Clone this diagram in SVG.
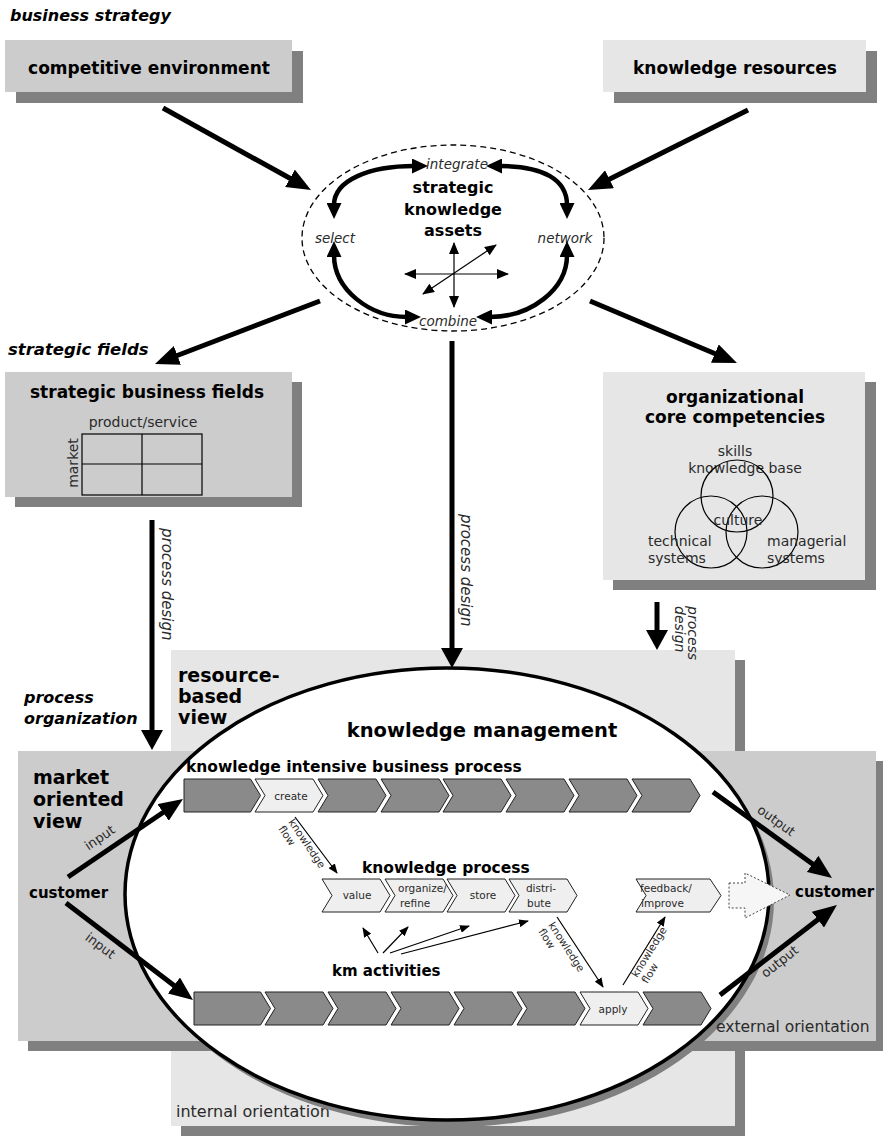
<svg xmlns="http://www.w3.org/2000/svg" xmlns:xlink="http://www.w3.org/1999/xlink" width="883" height="1136" viewBox="0 0 883 1136">
<style>
.b{font-family:"DejaVu Sans",sans-serif;font-weight:bold;fill:#000}
.bi{font-family:"DejaVu Sans",sans-serif;font-weight:bold;font-style:italic;fill:#000}
.l{font-family:"DejaVu Sans",sans-serif;font-weight:normal;fill:#2a2a2a}
.li{font-family:"DejaVu Sans",sans-serif;font-weight:normal;font-style:italic;fill:#2a2a2a}
.m{text-anchor:middle}
.g1{fill:#cccccc}
.g2{fill:#e6e6e6}
.sh{fill:#808080}
.ch{fill:#8a8a8a;stroke:#222;stroke-width:1}
.chl{fill:#efefef;stroke:#222;stroke-width:1}
.thick{stroke:#000;stroke-width:5;fill:none}
.pd{stroke:#000;stroke-width:5;fill:none}
.arc{stroke:#000;stroke-width:4.5;fill:none}
.thin{stroke:#000;stroke-width:1.2;fill:none}
</style>
<defs>
<marker id="hb" markerUnits="userSpaceOnUse" markerWidth="24" markerHeight="20" refX="3" refY="10" orient="auto-start-reverse"><path d="M0,0 L24,10 L0,20 z" fill="#000"/></marker>
<marker id="hm" markerUnits="userSpaceOnUse" markerWidth="20" markerHeight="22" refX="3" refY="11" orient="auto-start-reverse"><path d="M0,0 L20,11 L0,22 z" fill="#000"/></marker>
<marker id="hc" markerUnits="userSpaceOnUse" markerWidth="16" markerHeight="15" refX="2" refY="7.5" orient="auto-start-reverse"><path d="M0,0 L16,7.5 L0,15 z" fill="#000"/></marker>
<marker id="hx" markerUnits="userSpaceOnUse" markerWidth="12" markerHeight="10" refX="11" refY="5" orient="auto-start-reverse"><path d="M0,0 L12,5 L0,10 z" fill="#000"/></marker>
<marker id="hs" markerUnits="userSpaceOnUse" markerWidth="10" markerHeight="8" refX="9" refY="4" orient="auto-start-reverse"><path d="M0,0 L10,4 L0,8 z" fill="#000"/></marker>
<polygon id="chev" points="0,0 58,0 68,16.5 58,33 0,33 10,16.5"/>
</defs>

<text class="bi" x="10" y="21" font-size="16">business strategy</text>

<g id="competitive-environment">
<rect class="sh" x="16" y="51" width="287" height="52"/>
<rect class="g1" x="5" y="40" width="287" height="52"/>
<text class="b m" x="149" y="74" font-size="17">competitive environment</text>
</g>

<g id="knowledge-resources">
<rect class="sh" x="614" y="51" width="263" height="52"/>
<rect class="g2" x="603" y="40" width="263" height="52"/>
<text class="b m" x="735" y="74" font-size="17">knowledge resources</text>
</g>

<g id="strategic-knowledge-assets">
<ellipse cx="453" cy="238" rx="151" ry="93" fill="none" stroke="#000" stroke-width="1.3" stroke-dasharray="6,4"/>
<text class="li m" x="457" y="169" font-size="13.5">integrate</text>
<text class="b m" x="453" y="193" font-size="16">strategic</text>
<text class="b m" x="453" y="215" font-size="16">knowledge</text>
<text class="b m" x="453" y="236" font-size="16">assets</text>
<text class="li m" x="335" y="243" font-size="13.5">select</text>
<text class="li m" x="565" y="243" font-size="13.5">network</text>
<text class="li m" x="448" y="326" font-size="13.5">combine</text>
<path class="arc" d="M334,205 C334,180 370,166 414,166" marker-start="url(#hc)" marker-end="url(#hc)"/>
<path class="arc" d="M500,166 C544,166 567,180 567,205" marker-start="url(#hc)" marker-end="url(#hc)"/>
<path class="arc" d="M334,255 C334,290 370,317 407,317" marker-start="url(#hc)" marker-end="url(#hc)"/>
<path class="arc" d="M567,255 C567,290 530,317 490,317" marker-start="url(#hc)" marker-end="url(#hc)"/>
<line class="thin" x1="454" y1="243" x2="454" y2="307" marker-start="url(#hx)" marker-end="url(#hx)"/>
<line class="thin" x1="405" y1="274" x2="508" y2="274" marker-start="url(#hx)" marker-end="url(#hx)"/>
<line class="thin" x1="423" y1="294" x2="496" y2="245" marker-start="url(#hx)" marker-end="url(#hx)"/>
</g>

<text class="bi" x="8" y="355" font-size="16.5">strategic fields</text>

<g id="strategic-business-fields">
<rect class="sh" x="15" y="382" width="287" height="125"/>
<rect class="g1" x="5" y="372" width="287" height="125"/>
<text class="b m" x="147" y="398" font-size="17">strategic business fields</text>
<text class="l m" x="143" y="427" font-size="14">product/service</text>
<rect x="82" y="434" width="120" height="61" fill="none" stroke="#000" stroke-width="1.2"/>
<line x1="142" y1="434" x2="142" y2="495" stroke="#000" stroke-width="1.2"/>
<line x1="82" y1="464" x2="202" y2="464" stroke="#000" stroke-width="1.2"/>
<text class="l m" transform="translate(78,463) rotate(-90)" font-size="14">market</text>
</g>

<g id="organizational-core-competencies">
<rect class="sh" x="613" y="382" width="263" height="208"/>
<rect class="g2" x="603" y="372" width="262" height="208"/>
<text class="b m" x="735" y="403" font-size="17">organizational</text>
<text class="b m" x="735" y="423" font-size="17">core competencies</text>
<text class="l m" x="735" y="456" font-size="14">skills</text>
<text class="l m" x="745" y="473" font-size="14">knowledge base</text>
<g fill="none" stroke="#000" stroke-width="1.2">
<circle cx="737" cy="496" r="36"/>
<circle cx="711" cy="532" r="36"/>
<circle cx="762" cy="532" r="36"/>
</g>
<text class="l m" x="738" y="525" font-size="14">culture</text>
<text class="l" x="648" y="546" font-size="14">technical</text>
<text class="l" x="648" y="563" font-size="14">systems</text>
<text class="l" x="767" y="546" font-size="14">managerial</text>
<text class="l" x="767" y="563" font-size="14">systems</text>
</g>

<g id="resource-based-view">
<rect class="sh" x="181" y="660" width="564" height="476"/>
<rect class="g2" x="171" y="650" width="564" height="476"/>
<text class="b" x="178" y="682" font-size="19">resource-</text>
<text class="b" x="178" y="703" font-size="19">based</text>
<text class="b" x="178" y="724" font-size="19">view</text>
<text class="l" x="176" y="1117" font-size="16">internal orientation</text>
</g>

<text class="bi" x="24" y="703" font-size="16">process</text>
<text class="bi" x="24" y="724" font-size="16">organization</text>

<g id="market-oriented-view">
<rect class="sh" x="28" y="761" width="855" height="290"/>
<rect class="g1" x="18" y="751" width="858" height="290"/>
<text class="b" x="33" y="784" font-size="19">market</text>
<text class="b" x="33" y="806" font-size="19">oriented</text>
<text class="b" x="33" y="828" font-size="19">view</text>
</g>

<g id="customer-left"><text class="b" x="29" y="898" font-size="15">customer</text></g>
<g id="customer-right"><text class="b" x="795" y="897" font-size="15">customer</text></g>

<g id="knowledge-management">
<ellipse cx="452" cy="900" rx="322" ry="227" class="sh"/>
<ellipse cx="447" cy="894" rx="322" ry="226" fill="#fff" stroke="#000" stroke-width="3.5"/>
<text class="b m" x="482" y="737" font-size="19.5">knowledge management</text>
</g>

<text class="l" x="716" y="1032" font-size="15.5">external orientation</text>

<g id="knowledge-intensive-business-process">
<text class="b" x="186" y="772" font-size="15.5">knowledge intensive business process</text>
<polygon class="ch" points="184,779 250.5,779 260.5,795.5 250.5,812 184,812"/>
<use xlink:href="#chev" x="255" y="779" class="chl"/>
<use xlink:href="#chev" x="318" y="779" class="ch"/>
<use xlink:href="#chev" x="381" y="779" class="ch"/>
<use xlink:href="#chev" x="443" y="779" class="ch"/>
<use xlink:href="#chev" x="506" y="779" class="ch"/>
<use xlink:href="#chev" x="569" y="779" class="ch"/>
<use xlink:href="#chev" x="632" y="779" class="ch"/>
<text class="l m" x="291" y="800" font-size="10.5">create</text>
</g>

<g id="knowledge-process">
<text class="b" x="362" y="873" font-size="15.5">knowledge process</text>
<use xlink:href="#chev" x="322" y="879" class="chl"/>
<use xlink:href="#chev" x="385" y="879" class="chl"/>
<use xlink:href="#chev" x="447" y="879" class="chl"/>
<use xlink:href="#chev" x="509" y="879" class="chl"/>
<polygon class="chl" points="636,879 710,879 721,895.5 710,912 636,912 646,895.5"/>
<text class="l m" x="357" y="899" font-size="10.5">value</text>
<text class="l" x="398" y="892" font-size="10.5">organize/</text>
<text class="l" x="400" y="907" font-size="10.5">refine</text>
<text class="l m" x="483" y="899" font-size="10.5">store</text>
<text class="l m" x="541" y="892" font-size="10.5">distri-</text>
<text class="l m" x="539" y="907" font-size="10.5">bute</text>
<text class="l" x="640" y="892" font-size="10.5">feedback/</text>
<text class="l" x="641" y="907" font-size="10.5">improve</text>
<polygon points="729,883 745,883 745,873 790,895 745,918 745,908 729,908" fill="#f6f6f6" stroke="#444" stroke-width="1" stroke-dasharray="2,2"/>
</g>

<g id="km-activities">
<text class="b" x="332" y="976" font-size="15">km activities</text>
</g>

<g id="business-process-bottom">
<polygon class="ch" points="194,992 260.5,992 270.5,1008.5 260.5,1025 194,1025"/>
<use xlink:href="#chev" x="265" y="992" class="ch"/>
<use xlink:href="#chev" x="328" y="992" class="ch"/>
<use xlink:href="#chev" x="391" y="992" class="ch"/>
<use xlink:href="#chev" x="454" y="992" class="ch"/>
<use xlink:href="#chev" x="517" y="992" class="ch"/>
<use xlink:href="#chev" x="580" y="992" class="chl"/>
<use xlink:href="#chev" x="643" y="992" class="ch"/>
<text class="l m" x="613" y="1013" font-size="10.5">apply</text>
</g>

<g id="connectors">
<line class="thick" x1="163" y1="108" x2="292.6" y2="179.8" marker-end="url(#hb)"/>
<line class="thick" x1="748" y1="110" x2="606.8" y2="180.6" marker-end="url(#hb)"/>
<line class="thick" x1="320" y1="301" x2="174.6" y2="356.5" marker-end="url(#hb)"/>
<line class="thick" x1="590" y1="301" x2="717.6" y2="354.8" marker-end="url(#hb)"/>
<line class="pd" x1="152" y1="520" x2="152" y2="733" marker-end="url(#hm)"/>
<line class="pd" x1="452" y1="341" x2="452" y2="651" marker-end="url(#hm)"/>
<line class="pd" x1="657" y1="602" x2="657" y2="633" stroke-width="7" marker-end="url(#hm)"/>
<text class="li" transform="translate(162,528) rotate(90)" font-size="15">process design</text>
<text class="li" transform="translate(461,514) rotate(90)" font-size="15">process design</text>
<text class="li" transform="translate(688,606) rotate(90)" font-size="14">process</text>
<text class="li" transform="translate(675,606) rotate(90)" font-size="14">design</text>
<line class="thick" x1="68" y1="877" x2="165.6" y2="810.8" marker-end="url(#hb)"/>
<line class="thick" x1="66" y1="903" x2="176.3" y2="987.3" marker-end="url(#hb)"/>
<line class="thick" x1="713" y1="792" x2="815" y2="865.7" marker-end="url(#hb)"/>
<line class="thick" x1="720" y1="995" x2="820.3" y2="917.8" marker-end="url(#hb)"/>
<text class="l m" transform="translate(100,838) rotate(-34)" dy="4" font-size="13">input</text>
<text class="l m" transform="translate(100,946) rotate(37)" dy="4" font-size="13">input</text>
<text class="l m" transform="translate(776,821) rotate(36)" dy="4" font-size="13">output</text>
<text class="l m" transform="translate(780,962) rotate(-38)" dy="4" font-size="13">output</text>
<line class="thin" x1="295" y1="817" x2="337" y2="873" marker-end="url(#hs)"/>
<line class="thin" x1="557" y1="917" x2="603" y2="987" marker-end="url(#hs)"/>
<line class="thin" x1="623" y1="985" x2="665" y2="917" marker-end="url(#hs)"/>
<text class="l" transform="translate(288,822) rotate(56)" font-size="10.5">knowledge<tspan x="0" dy="12">flow</tspan></text>
<text class="l" transform="translate(548,925) rotate(57)" font-size="10.5">knowledge<tspan x="0" dy="12">flow</tspan></text>
<text class="l" transform="translate(637,978) rotate(-58)" font-size="10.5">knowledge<tspan x="0" dy="12">flow</tspan></text>
<line class="thin" x1="378" y1="953" x2="363" y2="928" marker-end="url(#hs)"/>
<line class="thin" x1="383" y1="953" x2="408" y2="927" marker-end="url(#hs)"/>
<line class="thin" x1="390" y1="953" x2="469" y2="926" marker-end="url(#hs)"/>
<line class="thin" x1="401" y1="954" x2="528" y2="921" marker-end="url(#hs)"/>
</g>
</svg>
